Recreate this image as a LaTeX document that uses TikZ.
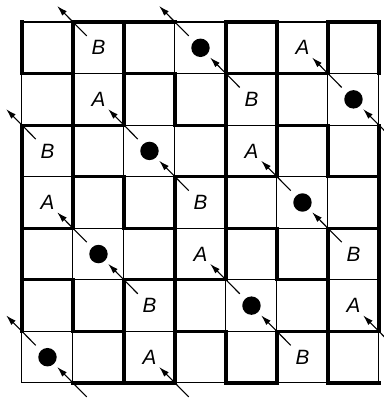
\documentclass[tikz,border=0pt]{standalone}
\usepackage{fontspec}
\setmainfont{Liberation Sans}
\usetikzlibrary{arrows.meta}

\tikzset{
  sym/.style={font=\fontsize{15}{17}\selectfont\itshape, inner sep=0pt},
  spot/.style={circle, fill=black, inner sep=0pt, minimum size=4.7mm},
  wall/.style={line width=2.3pt, line cap=rect},
  cellline/.style={line width=0.75pt},
  push/.style={line width=0.8pt, -{Latex[length=7.5pt,width=4.5pt]}}
}

\begin{document}
\begin{tikzpicture}[x=1.3cm,y=1.3145cm]
\useasboundingbox (-0.431,0.4266) rectangle (7.098,-7.369);

% thin cell lines
\foreach \i in {0,...,7} {
  \draw[cellline] (\i,0) -- (\i,-7);
  \draw[cellline] (0,-\i) -- (7,-\i);
}

% thick walls, horizontal (row/col)
\foreach \r/\c in {0/1,0/2,0/4,0/6, 1/0,1/2,1/4,1/5, 2/0,2/1,2/3,2/5,
                   3/1,3/3,3/4,3/6, 4/0,4/2,4/4,4/6, 5/0,5/2,5/3,5/5,
                   6/1,6/3,6/5,6/6, 7/1,7/2,7/4,7/6}
  \draw[wall] (\c,-\r) -- ++(1,0);

% thick walls, vertical (col/row)
\foreach \c/\r in {0/0,0/2,0/3,0/4,0/5, 1/0,1/1,1/2,1/3,1/5,
                   2/0,2/1,2/3,2/5,2/6, 3/1,3/3,3/4,3/5,3/6,
                   4/0,4/1,4/2,4/3,4/4,4/6, 5/0,5/1,5/2,5/4,5/6,
                   6/0,6/2,6/4,6/5,6/6, 7/0,7/2,7/3,7/4,7/5}
  \draw[wall] (\c,-\r) -- ++(0,-1);

% B sites
\node[sym] (b1) at (1.5,-0.5) {B};
\node[sym] (b2) at (4.5,-1.5) {B};
\node[sym] (b3) at (0.5,-2.5) {B};
\node[sym] (b4) at (3.5,-3.5) {B};
\node[sym] (b5) at (6.5,-4.5) {B};
\node[sym] (b6) at (2.5,-5.5) {B};
\node[sym] (b7) at (5.5,-6.5) {B};

% occupied sites
\node[spot] (d1) at (3.5,-0.5) {};
\node[spot] (d2) at (6.5,-1.5) {};
\node[spot] (d3) at (2.5,-2.5) {};
\node[spot] (d4) at (5.5,-3.5) {};
\node[spot] (d5) at (1.5,-4.5) {};
\node[spot] (d6) at (4.5,-5.5) {};
\node[spot] (d7) at (0.5,-6.5) {};

% A sites
\node[sym] (a1) at (5.5,-0.5) {A};
\node[sym] (a2) at (1.5,-1.5) {A};
\node[sym] (a3) at (4.5,-2.5) {A};
\node[sym] (a4) at (0.5,-3.5) {A};
\node[sym] (a5) at (3.5,-4.5) {A};
\node[sym] (a6) at (6.5,-5.5) {A};
\node[sym] (a7) at (2.5,-6.5) {A};

% jumps across the corners
\foreach \x/\y in {1/0,1/7,4/1,0/2,7/2,3/3,6/4,2/5,5/6,
                   3/0,3/7,6/1,2/2,5/3,1/4,4/5,0/6,7/6}
  \draw[push] (\x+0.27,-\y-0.27) -- (\x-0.31,-\y+0.31);
\end{tikzpicture}
\end{document}
